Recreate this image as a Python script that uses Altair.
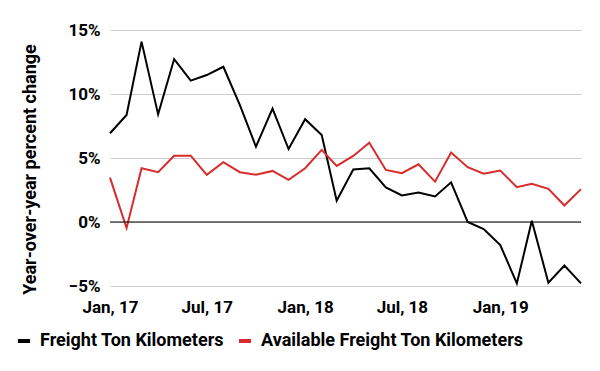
import altair as alt
import pandas as pd

months = [
    "2017-01", "2017-02", "2017-03", "2017-04", "2017-05", "2017-06",
    "2017-07", "2017-08", "2017-09", "2017-10", "2017-11", "2017-12",
    "2018-01", "2018-02", "2018-03", "2018-04", "2018-05", "2018-06",
    "2018-07", "2018-08", "2018-09", "2018-10", "2018-11", "2018-12",
    "2019-01", "2019-02", "2019-03", "2019-04", "2019-05", "2019-06",
]

ftk = [6.93, 8.36, 14.09, 8.41, 12.73, 11.04, 11.48, 12.13, 9.13, 5.88,
       8.85, 5.70, 8.03, 6.79, 1.67, 4.10, 4.20, 2.70, 2.07, 2.30,
       2.00, 3.10, 0.00, -0.55, -1.80, -4.80, 0.10, -4.75, -3.40, -4.80]

aftk = [3.47, -0.47, 4.20, 3.89, 5.18, 5.18, 3.68, 4.67, 3.89, 3.70,
        3.99, 3.29, 4.20, 5.63, 4.38, 5.16, 6.20, 4.07, 3.81, 4.51,
        3.15, 5.42, 4.28, 3.78, 4.02, 2.72, 2.98, 2.59, 1.29, 2.57]

series_names = ["Freight Ton Kilometers", "Available Freight Ton Kilometers"]
series_colors = ["#000000", "#d92b2b"]

y_ticks = [-5, 0, 5, 10, 15]

rows = []
for m, a, b in zip(months, ftk, aftk):
    rows.append({"date": m + "-01T00:00:00", "series": series_names[0], "value": a / 100})
    rows.append({"date": m + "-01T00:00:00", "series": series_names[1], "value": b / 100})
df = pd.DataFrame(rows)

FONT = "Roboto"

x_enc = alt.X(
    "date:T",
    scale=alt.Scale(
        domain=[{"year": 2017, "month": 1, "date": 1}, {"year": 2019, "month": 6, "date": 1}],
        nice=False,
    ),
    axis=alt.Axis(
        title=None,
        values=[
            {"year": 2017, "month": 1, "date": 1},
            {"year": 2017, "month": 7, "date": 1},
            {"year": 2018, "month": 1, "date": 1},
            {"year": 2018, "month": 7, "date": 1},
            {"year": 2019, "month": 1, "date": 1},
        ],
        format="%b, %y",
        ticks=False,
        domain=False,
        grid=False,
        labelFlush=False,
        labelOverlap=False,
        labelPadding=13,
        labelFont=FONT,
        labelFontSize=17,
        labelFontWeight="bold",
        labelColor="#000000",
    ),
)

lines = alt.Chart(df).mark_line(strokeWidth=2).encode(
    x=x_enc,
    y=alt.Y(
        "value:Q",
        scale=alt.Scale(domain=[-0.05, 0.15], nice=False),
        axis=alt.Axis(
            title="Year-over-year percent change",
            values=[v / 100 for v in y_ticks],
            format=".0%",
            ticks=False,
            domain=False,
            grid=True,
            gridColor="#cccccc",
            gridWidth=1,
            labelPadding=10,
            labelFont=FONT,
            labelFontSize=17,
            labelFontWeight="bold",
            labelColor="#000000",
            titleFont=FONT,
            titleFontSize=18,
            titleFontWeight="bold",
            titleColor="#000000",
            titleX=-80,
            titleY=139,
            titleAlign="center",
            titleBaseline="middle",
        ),
    ),
    color=alt.Color(
        "series:N",
        scale=alt.Scale(domain=series_names, range=series_colors),
        sort=series_names,
        legend=alt.Legend(
            title=None,
            orient="none",
            direction="horizontal",
            legendX=-95,
            legendY=302,
            symbolType="stroke",
            symbolStrokeWidth=4,
            symbolSize=144,
            labelFont=FONT,
            labelFontSize=18,
            labelFontWeight="bold",
            labelColor="#000000",
            labelLimit=0,
            labelOffset=7,
            columnPadding=7,
        ),
    ),
)

zero = alt.Chart(pd.DataFrame({"y": [0]})).mark_rule(color="#000000", strokeWidth=1).encode(
    y=alt.Y("y:Q")
)

chart = alt.layer(lines, zero).properties(
    width=471,
    height=256,
    autosize=alt.AutoSizeParams(type="none"),
    padding={"left": 102, "top": 22, "right": 11, "bottom": 77},
).configure_view(stroke=None)

chart.save("out.html", embed_options={"renderer": "svg", "actions": False})
